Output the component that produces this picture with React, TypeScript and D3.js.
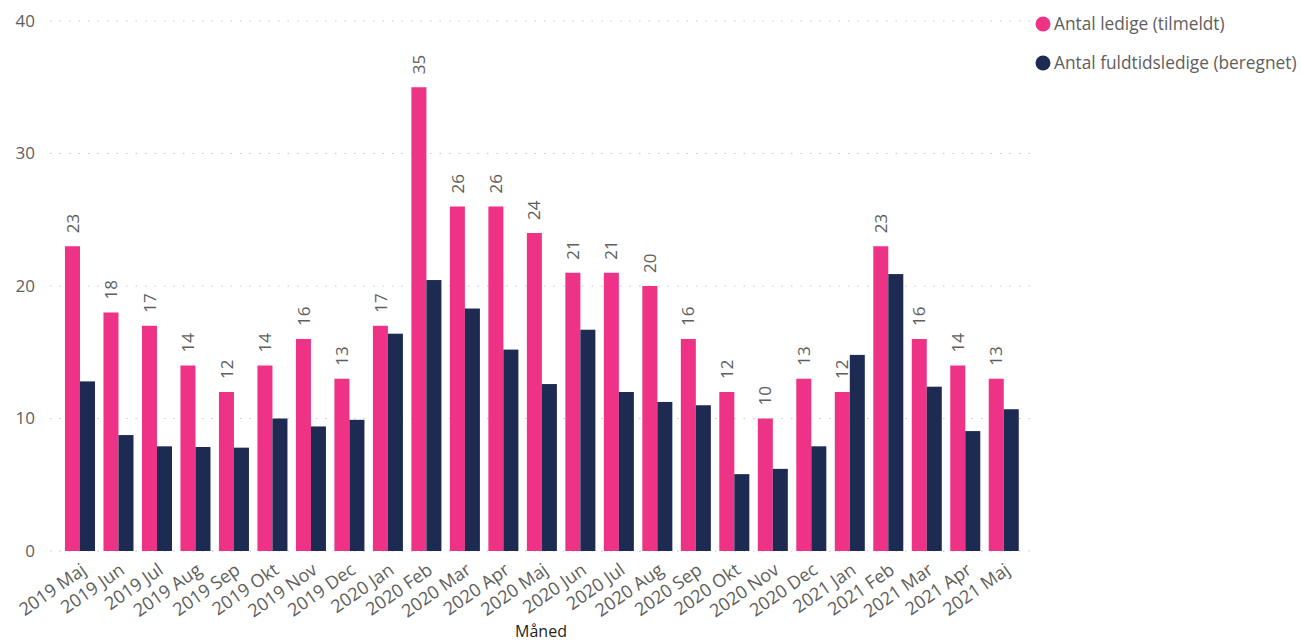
import React from "react";
import * as d3 from "d3";

const categories = ["2019 Maj","2019 Jun","2019 Jul","2019 Aug","2019 Sep","2019 Okt","2019 Nov","2019 Dec","2020 Jan","2020 Feb","2020 Mar","2020 Apr","2020 Maj","2020 Jun","2020 Jul","2020 Aug","2020 Sep","2020 Okt","2020 Nov","2020 Dec","2021 Jan","2021 Feb","2021 Mar","2021 Apr","2021 Maj"];
const ledige = [23,18,17,14,12,14,16,13,17,35,26,26,24,21,21,20,16,12,10,13,12,23,16,14,13];
const fuldtid = [12.8,8.75,7.9,7.85,7.8,10.0,9.4,9.9,16.4,20.45,18.3,15.2,12.6,16.7,12.0,11.25,11.0,5.8,6.2,7.9,14.8,20.9,12.4,9.05,10.7];
const yTicks = [0,10,20,30,40];
const seriesNames = ["Antal ledige (tilmeldt)", "Antal fuldtidsledige (beregnet)"];
const colors = ["#EE3386", "#1D2A52"];

export default function App() {
  const W = 1301, H = 641;
  const y = d3.scaleLinear().domain([0, 40]).range([551, 21]);
  const x = d3.scaleBand().domain(categories).range([60.75, 1023]).paddingInner(0.22).paddingOuter(0.11);
  const inner = d3.scaleBand().domain(["a", "b"]).range([0, x.bandwidth()]);
  const font = "'Open Sans', 'Noto Sans', sans-serif";
  const gray = "#605E5C";
  return (
    <svg width={W} height={H} style={{ position: "absolute", left: 0, top: 0, background: "#fff" }} fontFamily={font}>
      {yTicks.map((t) => (
        <g key={t}>
          <line x1={50} x2={1030} y1={y(t)} y2={y(t)} stroke="#C8C6C4" strokeWidth={1.2} strokeDasharray="1.5 8" />
          <text x={35} y={y(t)} dy="0.35em" textAnchor="end" fontSize={17} fill={gray}>{t}</text>
        </g>
      ))}
      {categories.map((c, i) => {
        const x0 = x(c)!;
        return (
          <g key={c}>
            <rect x={x0 + inner("a")!} y={y(ledige[i])} width={inner.bandwidth()} height={y(0) - y(ledige[i])} fill={colors[0]} />
            <rect x={x0 + inner("b")!} y={y(fuldtid[i])} width={inner.bandwidth()} height={y(0) - y(fuldtid[i])} fill={colors[1]} />
            <text transform={`translate(${x0 + inner("a")! + inner.bandwidth() / 2},${y(ledige[i]) - 13}) rotate(-90)`} dy="0.36em" fontSize={17} fill={gray}>{ledige[i]}</text>
            <text transform={`translate(${x0 + x.bandwidth() / 2},${562}) rotate(-35)`} dy="0.72em" textAnchor="end" fontSize={18} fill={gray}>{c}</text>
          </g>
        );
      })}
      <text x={541} y={637} textAnchor="middle" fontSize={16} fill="#252423">Måned</text>
      {seriesNames.map((s, i) => (
        <g key={s} transform={`translate(1043,${24 + i * 39})`}>
          <circle r={7.5} fill={colors[i]} />
          <text x={11} dy="0.35em" fontSize={17.3} fill={gray}>{s}</text>
        </g>
      ))}
    </svg>
  );
}
